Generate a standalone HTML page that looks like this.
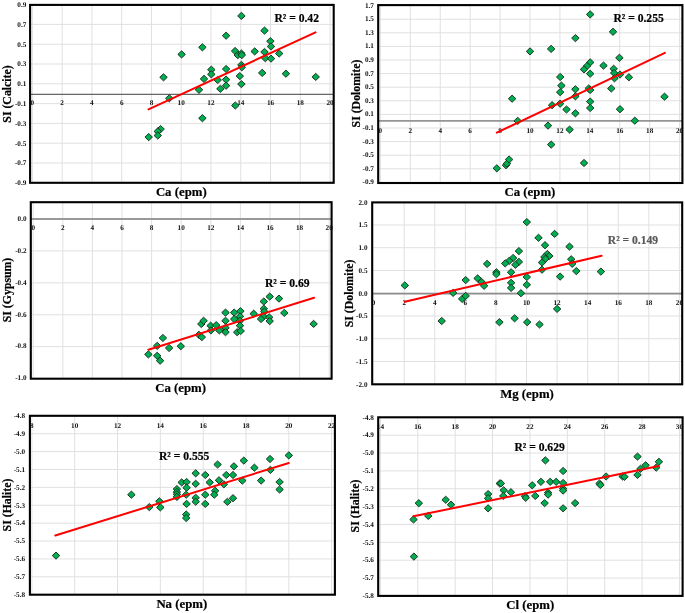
<!DOCTYPE html>
<html><head><meta charset="utf-8"><style>
html,body{margin:0;padding:0;background:#fff;width:685px;height:613px;overflow:hidden}
svg{display:block;will-change:transform}
text{font-family:"Liberation Serif",serif}
</style></head><body>
<svg width="685" height="613" viewBox="0 0 685 613">
<defs><path id="d" d="M0,-3.6 L3.75,0 L0,3.6 L-3.75,0 Z"/></defs>
<g stroke="#e0e0e0" stroke-width="1"><line x1="32.4" y1="4.9" x2="32.4" y2="182.8"/><line x1="62.16" y1="4.9" x2="62.16" y2="182.8"/><line x1="91.92" y1="4.9" x2="91.92" y2="182.8"/><line x1="121.68" y1="4.9" x2="121.68" y2="182.8"/><line x1="151.44" y1="4.9" x2="151.44" y2="182.8"/><line x1="181.2" y1="4.9" x2="181.2" y2="182.8"/><line x1="210.96" y1="4.9" x2="210.96" y2="182.8"/><line x1="240.72" y1="4.9" x2="240.72" y2="182.8"/><line x1="270.48" y1="4.9" x2="270.48" y2="182.8"/><line x1="300.24" y1="4.9" x2="300.24" y2="182.8"/><line x1="330" y1="4.9" x2="330" y2="182.8"/><line x1="30.1" y1="24.4" x2="333.7" y2="24.4"/><line x1="30.1" y1="44.2" x2="333.7" y2="44.2"/><line x1="30.1" y1="64" x2="333.7" y2="64"/><line x1="30.1" y1="83.8" x2="333.7" y2="83.8"/><line x1="30.1" y1="103.6" x2="333.7" y2="103.6"/><line x1="30.1" y1="123.4" x2="333.7" y2="123.4"/><line x1="30.1" y1="143.2" x2="333.7" y2="143.2"/><line x1="30.1" y1="163" x2="333.7" y2="163"/></g>
<line x1="30.1" y1="94.3" x2="333.7" y2="94.3" stroke="#666" stroke-width="1.3"/>
<g font-family="Liberation Serif" font-weight="bold" font-size="7.2" text-anchor="middle" fill="#111" style="text-rendering:geometricPrecision"><text x="32.4" y="104.9">0</text><text x="62.16" y="104.9">2</text><text x="91.92" y="104.9">4</text><text x="121.68" y="104.9">6</text><text x="151.44" y="104.9">8</text><text x="181.2" y="104.9">10</text><text x="210.96" y="104.9">12</text><text x="240.72" y="104.9">14</text><text x="270.48" y="104.9">16</text><text x="300.24" y="104.9">18</text><text x="330" y="104.9">20</text></g>
<g font-family="Liberation Serif" font-weight="bold" font-size="7.2" text-anchor="end" fill="#111" style="text-rendering:geometricPrecision"><text x="26.3" y="6.9">0.9</text><text x="26.3" y="26.7">0.7</text><text x="26.3" y="46.5">0.5</text><text x="26.3" y="66.3">0.3</text><text x="26.3" y="86.1">0.1</text><text x="26.3" y="105.9">-0.1</text><text x="26.3" y="125.7">-0.3</text><text x="26.3" y="145.5">-0.5</text><text x="26.3" y="165.3">-0.7</text><text x="26.3" y="185.1">-0.9</text></g>
<g fill="#00ad50" stroke="#173020" stroke-width="0.95"><use href="#d" x="202.4" y="47.3"/><use href="#d" x="181.6" y="54.4"/><use href="#d" x="163.5" y="77.3"/><use href="#d" x="211.3" y="69.7"/><use href="#d" x="211.3" y="74.3"/><use href="#d" x="204" y="78.9"/><use href="#d" x="217.7" y="80"/><use href="#d" x="199" y="89.8"/><use href="#d" x="169.3" y="98.3"/><use href="#d" x="202.4" y="118.2"/><use href="#d" x="160.6" y="129.1"/><use href="#d" x="157.8" y="131.4"/><use href="#d" x="157.8" y="135.5"/><use href="#d" x="148.7" y="137.1"/><use href="#d" x="241.4" y="15.9"/><use href="#d" x="226.1" y="35.7"/><use href="#d" x="264.5" y="30.6"/><use href="#d" x="270.4" y="41.2"/><use href="#d" x="271" y="46.5"/><use href="#d" x="254.7" y="51.4"/><use href="#d" x="235.1" y="51"/><use href="#d" x="237.8" y="55.1"/><use href="#d" x="241.4" y="53.5"/><use href="#d" x="241.8" y="55.1"/><use href="#d" x="264.5" y="52"/><use href="#d" x="265.3" y="58.2"/><use href="#d" x="271" y="58.6"/><use href="#d" x="279.2" y="53.5"/><use href="#d" x="241.4" y="64.9"/><use href="#d" x="241.8" y="67.3"/><use href="#d" x="226.1" y="69"/><use href="#d" x="226.1" y="79.6"/><use href="#d" x="239.8" y="76.1"/><use href="#d" x="262.2" y="72.9"/><use href="#d" x="226.1" y="85.7"/><use href="#d" x="220.4" y="88.8"/><use href="#d" x="241.4" y="84.1"/><use href="#d" x="235.3" y="105.5"/><use href="#d" x="285.9" y="73.7"/><use href="#d" x="315.7" y="76.9"/></g>
<line x1="148.5" y1="109.3" x2="315.5" y2="32.4" stroke="#ff0000" stroke-width="2" stroke-linecap="round"/>
<text x="274.4" y="21.5" font-family="Liberation Serif" font-weight="bold" font-size="11.6" fill="#000" stroke="#000" stroke-width="0.2">R² = 0.42</text>
<rect x="30.1" y="4.9" width="303.6" height="177.9" fill="none" stroke="#000" stroke-width="2.1"/>
<text x="181.3" y="195.6" font-family="Liberation Serif" font-weight="bold" font-size="12.8" text-anchor="middle" stroke="#000" stroke-width="0.2">Ca (epm)</text>
<text transform="translate(6.8,94) rotate(-90)" x="0" y="4" font-family="Liberation Serif" font-weight="bold" font-size="11.8" text-anchor="middle" stroke="#000" stroke-width="0.2">SI (Calcite)</text>
<g stroke="#e0e0e0" stroke-width="1"><line x1="380.4" y1="5.1" x2="380.4" y2="183"/><line x1="410.32" y1="5.1" x2="410.32" y2="183"/><line x1="440.24" y1="5.1" x2="440.24" y2="183"/><line x1="470.16" y1="5.1" x2="470.16" y2="183"/><line x1="500.08" y1="5.1" x2="500.08" y2="183"/><line x1="530" y1="5.1" x2="530" y2="183"/><line x1="559.92" y1="5.1" x2="559.92" y2="183"/><line x1="589.84" y1="5.1" x2="589.84" y2="183"/><line x1="619.76" y1="5.1" x2="619.76" y2="183"/><line x1="649.68" y1="5.1" x2="649.68" y2="183"/><line x1="679.6" y1="5.1" x2="679.6" y2="183"/><line x1="378.2" y1="19.2" x2="682.4" y2="19.2"/><line x1="378.2" y1="32.8" x2="682.4" y2="32.8"/><line x1="378.2" y1="46.4" x2="682.4" y2="46.4"/><line x1="378.2" y1="60" x2="682.4" y2="60"/><line x1="378.2" y1="73.6" x2="682.4" y2="73.6"/><line x1="378.2" y1="87.2" x2="682.4" y2="87.2"/><line x1="378.2" y1="100.8" x2="682.4" y2="100.8"/><line x1="378.2" y1="114.4" x2="682.4" y2="114.4"/><line x1="378.2" y1="128" x2="682.4" y2="128"/><line x1="378.2" y1="141.6" x2="682.4" y2="141.6"/><line x1="378.2" y1="155.2" x2="682.4" y2="155.2"/><line x1="378.2" y1="168.8" x2="682.4" y2="168.8"/></g>
<line x1="378.2" y1="120.9" x2="682.4" y2="120.9" stroke="#959595" stroke-width="1.8"/>
<g font-family="Liberation Serif" font-weight="bold" font-size="7.2" text-anchor="middle" fill="#111" style="text-rendering:geometricPrecision"><text x="380.4" y="132.8">0</text><text x="410.32" y="132.8">2</text><text x="440.24" y="132.8">4</text><text x="470.16" y="132.8">6</text><text x="500.08" y="132.8">8</text><text x="530" y="132.8">10</text><text x="559.92" y="132.8">12</text><text x="589.84" y="132.8">14</text><text x="619.76" y="132.8">16</text><text x="649.68" y="132.8">18</text><text x="679.6" y="132.8">20</text></g>
<g font-family="Liberation Serif" font-weight="bold" font-size="7.2" text-anchor="end" fill="#111" style="text-rendering:geometricPrecision"><text x="373.9" y="7.5">1.7</text><text x="373.9" y="21.1">1.5</text><text x="373.9" y="34.7">1.3</text><text x="373.9" y="48.3">1.1</text><text x="373.9" y="61.9">0.9</text><text x="373.9" y="75.5">0.7</text><text x="373.9" y="89.1">0.5</text><text x="373.9" y="102.7">0.3</text><text x="373.9" y="116.3">0.1</text><text x="373.9" y="129.9">-0.1</text><text x="373.9" y="143.5">-0.3</text><text x="373.9" y="157.1">-0.5</text><text x="373.9" y="170.7">-0.7</text><text x="373.9" y="184.3">-0.9</text></g>
<g fill="#00ad50" stroke="#173020" stroke-width="0.95"><use href="#d" x="530" y="51.4"/><use href="#d" x="551.1" y="48.9"/><use href="#d" x="560.2" y="77"/><use href="#d" x="561.4" y="85.6"/><use href="#d" x="560.2" y="92.2"/><use href="#d" x="512.1" y="98.7"/><use href="#d" x="590.2" y="14.4"/><use href="#d" x="613" y="31.8"/><use href="#d" x="575.4" y="38.1"/><use href="#d" x="619.4" y="57.8"/><use href="#d" x="590.2" y="62.4"/><use href="#d" x="587" y="66"/><use href="#d" x="584" y="69.4"/><use href="#d" x="603.5" y="65.6"/><use href="#d" x="590.2" y="73.7"/><use href="#d" x="613.7" y="68.8"/><use href="#d" x="614.1" y="73"/><use href="#d" x="620" y="74.5"/><use href="#d" x="614.5" y="78.3"/><use href="#d" x="628.9" y="77.3"/><use href="#d" x="575.4" y="89.3"/><use href="#d" x="588.7" y="88.5"/><use href="#d" x="590.2" y="90"/><use href="#d" x="575.4" y="96.3"/><use href="#d" x="611.3" y="88.5"/><use href="#d" x="664.5" y="96.7"/><use href="#d" x="590.2" y="101.6"/><use href="#d" x="560.1" y="103.7"/><use href="#d" x="552.1" y="105.2"/><use href="#d" x="590.2" y="108"/><use href="#d" x="566.5" y="109.5"/><use href="#d" x="620" y="109.2"/><use href="#d" x="575.4" y="113.3"/><use href="#d" x="634.8" y="120.7"/><use href="#d" x="548" y="125.6"/><use href="#d" x="569.6" y="129.6"/><use href="#d" x="551.2" y="144.6"/><use href="#d" x="584" y="163"/><use href="#d" x="517.7" y="120.9"/><use href="#d" x="496.8" y="168.3"/><use href="#d" x="506" y="165.2"/><use href="#d" x="507" y="163.5"/><use href="#d" x="509.1" y="159.5"/></g>
<line x1="496.8" y1="132.6" x2="664.9" y2="52.9" stroke="#ff0000" stroke-width="2" stroke-linecap="round"/>
<text x="613.4" y="21.7" font-family="Liberation Serif" font-weight="bold" font-size="11.6" fill="#000" stroke="#000" stroke-width="0.2">R² = 0.255</text>
<rect x="378.2" y="5.1" width="304.2" height="177.9" fill="none" stroke="#000" stroke-width="2.1"/>
<text x="529.9" y="196.4" font-family="Liberation Serif" font-weight="bold" font-size="12.8" text-anchor="middle" stroke="#000" stroke-width="0.2">Ca (epm)</text>
<text transform="translate(356,93.5) rotate(-90)" x="0" y="4" font-family="Liberation Serif" font-weight="bold" font-size="11.8" text-anchor="middle" stroke="#000" stroke-width="0.2">SI (Dolomite)</text>
<g stroke="#e0e0e0" stroke-width="1"><line x1="33.2" y1="202.2" x2="33.2" y2="378.7"/><line x1="62.8" y1="202.2" x2="62.8" y2="378.7"/><line x1="92.4" y1="202.2" x2="92.4" y2="378.7"/><line x1="122" y1="202.2" x2="122" y2="378.7"/><line x1="151.6" y1="202.2" x2="151.6" y2="378.7"/><line x1="181.2" y1="202.2" x2="181.2" y2="378.7"/><line x1="210.8" y1="202.2" x2="210.8" y2="378.7"/><line x1="240.4" y1="202.2" x2="240.4" y2="378.7"/><line x1="270" y1="202.2" x2="270" y2="378.7"/><line x1="299.6" y1="202.2" x2="299.6" y2="378.7"/><line x1="329.2" y1="202.2" x2="329.2" y2="378.7"/><line x1="30.8" y1="219" x2="331.6" y2="219"/><line x1="30.8" y1="250.92" x2="331.6" y2="250.92"/><line x1="30.8" y1="282.84" x2="331.6" y2="282.84"/><line x1="30.8" y1="314.76" x2="331.6" y2="314.76"/><line x1="30.8" y1="346.68" x2="331.6" y2="346.68"/></g>
<line x1="30.8" y1="219" x2="331.6" y2="219" stroke="#999" stroke-width="1.9"/>
<g font-family="Liberation Serif" font-weight="bold" font-size="7.2" text-anchor="middle" fill="#111" style="text-rendering:geometricPrecision"><text x="33.2" y="230.2">0</text><text x="62.8" y="230.2">2</text><text x="92.4" y="230.2">4</text><text x="122" y="230.2">6</text><text x="151.6" y="230.2">8</text><text x="181.2" y="230.2">10</text><text x="210.8" y="230.2">12</text><text x="240.4" y="230.2">14</text><text x="270" y="230.2">16</text><text x="299.6" y="230.2">18</text><text x="329.2" y="230.2">20</text></g>
<g font-family="Liberation Serif" font-weight="bold" font-size="7.2" text-anchor="end" fill="#111" style="text-rendering:geometricPrecision"><text x="26.6" y="220.8">0.0</text><text x="26.6" y="252.72">-0.2</text><text x="26.6" y="284.64">-0.4</text><text x="26.6" y="316.56">-0.6</text><text x="26.6" y="348.48">-0.8</text><text x="26.6" y="380.4">-1.0</text></g>
<g fill="#00ad50" stroke="#173020" stroke-width="0.95"><use href="#d" x="148.4" y="354.4"/><use href="#d" x="157.2" y="345.9"/><use href="#d" x="157.2" y="355.8"/><use href="#d" x="160.1" y="360.7"/><use href="#d" x="162.9" y="338"/><use href="#d" x="169.1" y="348"/><use href="#d" x="180.8" y="346.2"/><use href="#d" x="198.9" y="334.8"/><use href="#d" x="201.8" y="337.1"/><use href="#d" x="201.3" y="324"/><use href="#d" x="203.6" y="320.8"/><use href="#d" x="210.6" y="325.7"/><use href="#d" x="210.9" y="330.4"/><use href="#d" x="216.2" y="325.2"/><use href="#d" x="219.3" y="330.4"/><use href="#d" x="225.5" y="312.6"/><use href="#d" x="225.5" y="320.8"/><use href="#d" x="225.5" y="327.8"/><use href="#d" x="225.5" y="332.2"/><use href="#d" x="234.2" y="312.6"/><use href="#d" x="234.2" y="319.1"/><use href="#d" x="240.4" y="311.2"/><use href="#d" x="240" y="316.4"/><use href="#d" x="240" y="320.8"/><use href="#d" x="240" y="325.7"/><use href="#d" x="237.2" y="332.2"/><use href="#d" x="240.7" y="331"/><use href="#d" x="269.7" y="296.6"/><use href="#d" x="279" y="298.6"/><use href="#d" x="263.8" y="301.5"/><use href="#d" x="263.8" y="308.7"/><use href="#d" x="264.3" y="311.6"/><use href="#d" x="263.5" y="316.5"/><use href="#d" x="261" y="319"/><use href="#d" x="269.2" y="317.3"/><use href="#d" x="269.7" y="321.1"/><use href="#d" x="253.7" y="313.7"/><use href="#d" x="284.3" y="312.9"/><use href="#d" x="313.6" y="323.9"/></g>
<line x1="148.4" y1="349.7" x2="314.1" y2="297.7" stroke="#ff0000" stroke-width="2" stroke-linecap="round"/>
<text x="265" y="287.2" font-family="Liberation Serif" font-weight="bold" font-size="11.6" fill="#000" stroke="#000" stroke-width="0.2">R² = 0.69</text>
<rect x="30.8" y="202.2" width="300.8" height="176.5" fill="none" stroke="#000" stroke-width="2.1"/>
<text x="180.6" y="391.8" font-family="Liberation Serif" font-weight="bold" font-size="12.8" text-anchor="middle" stroke="#000" stroke-width="0.2">Ca (epm)</text>
<text transform="translate(6.8,290) rotate(-90)" x="0" y="4" font-family="Liberation Serif" font-weight="bold" font-size="11.8" text-anchor="middle" stroke="#000" stroke-width="0.2">SI (Gypsum)</text>
<g stroke="#e0e0e0" stroke-width="1"><line x1="404.18" y1="202.4" x2="404.18" y2="384.3"/><line x1="434.76" y1="202.4" x2="434.76" y2="384.3"/><line x1="465.34" y1="202.4" x2="465.34" y2="384.3"/><line x1="495.92" y1="202.4" x2="495.92" y2="384.3"/><line x1="526.5" y1="202.4" x2="526.5" y2="384.3"/><line x1="557.08" y1="202.4" x2="557.08" y2="384.3"/><line x1="587.66" y1="202.4" x2="587.66" y2="384.3"/><line x1="618.24" y1="202.4" x2="618.24" y2="384.3"/><line x1="648.82" y1="202.4" x2="648.82" y2="384.3"/><line x1="679.4" y1="202.4" x2="679.4" y2="384.3"/><line x1="372.2" y1="224.95" x2="682.2" y2="224.95"/><line x1="372.2" y1="247.7" x2="682.2" y2="247.7"/><line x1="372.2" y1="270.45" x2="682.2" y2="270.45"/><line x1="372.2" y1="293.2" x2="682.2" y2="293.2"/><line x1="372.2" y1="315.95" x2="682.2" y2="315.95"/><line x1="372.2" y1="338.7" x2="682.2" y2="338.7"/><line x1="372.2" y1="361.45" x2="682.2" y2="361.45"/></g>
<line x1="372.2" y1="293.7" x2="682.2" y2="293.7" stroke="#8c8c8c" stroke-width="1.8"/>
<g font-family="Liberation Serif" font-weight="bold" font-size="7.2" text-anchor="middle" fill="#111" style="text-rendering:geometricPrecision"><text x="373.6" y="304.7">0</text><text x="404.18" y="304.7">2</text><text x="434.76" y="304.7">4</text><text x="465.34" y="304.7">6</text><text x="495.92" y="304.7">8</text><text x="526.5" y="304.7">10</text><text x="557.08" y="304.7">12</text><text x="587.66" y="304.7">14</text><text x="618.24" y="304.7">16</text><text x="648.82" y="304.7">18</text><text x="679.4" y="304.7">20</text></g>
<g font-family="Liberation Serif" font-weight="bold" font-size="7.2" text-anchor="end" fill="#111" style="text-rendering:geometricPrecision"><text x="367.5" y="204.5">2.0</text><text x="367.5" y="227.25">1.5</text><text x="367.5" y="250">1.0</text><text x="367.5" y="272.75">0.5</text><text x="367.5" y="295.5">0.0</text><text x="367.5" y="318.25">-0.5</text><text x="367.5" y="341">-1.0</text><text x="367.5" y="363.75">-1.5</text><text x="367.5" y="386.5">-2.0</text></g>
<g fill="#00ad50" stroke="#173020" stroke-width="0.95"><use href="#d" x="404.8" y="285.4"/><use href="#d" x="453.1" y="292.9"/><use href="#d" x="462.2" y="298.9"/><use href="#d" x="465.7" y="295.9"/><use href="#d" x="465.7" y="280.1"/><use href="#d" x="441.7" y="321"/><use href="#d" x="477.6" y="278.4"/><use href="#d" x="481.5" y="281.9"/><use href="#d" x="484.1" y="285.8"/><use href="#d" x="487.1" y="263.9"/><use href="#d" x="526.8" y="222.1"/><use href="#d" x="554.6" y="233.9"/><use href="#d" x="538.5" y="237.8"/><use href="#d" x="545" y="245.2"/><use href="#d" x="569.5" y="246.6"/><use href="#d" x="518.9" y="251.1"/><use href="#d" x="513.1" y="258"/><use href="#d" x="509.2" y="260.9"/><use href="#d" x="505.2" y="263.4"/><use href="#d" x="518.9" y="261.9"/><use href="#d" x="515.4" y="264.8"/><use href="#d" x="547.3" y="254"/><use href="#d" x="549.3" y="256"/><use href="#d" x="544.4" y="257"/><use href="#d" x="545.4" y="258.9"/><use href="#d" x="542" y="262.5"/><use href="#d" x="542" y="269.7"/><use href="#d" x="571.2" y="259.3"/><use href="#d" x="572.2" y="263.8"/><use href="#d" x="576.3" y="271.1"/><use href="#d" x="560.1" y="276.6"/><use href="#d" x="496.4" y="272.3"/><use href="#d" x="496.4" y="274.2"/><use href="#d" x="511.1" y="272.3"/><use href="#d" x="526.8" y="277"/><use href="#d" x="526.8" y="284.8"/><use href="#d" x="511.1" y="282.8"/><use href="#d" x="511.1" y="287.9"/><use href="#d" x="520.9" y="293.2"/><use href="#d" x="557.1" y="308.9"/><use href="#d" x="499.4" y="322.2"/><use href="#d" x="514.6" y="318.3"/><use href="#d" x="527.2" y="322.2"/><use href="#d" x="539.5" y="324.5"/><use href="#d" x="600.9" y="271.6"/></g>
<line x1="404.8" y1="301.7" x2="601.6" y2="255.8" stroke="#ff0000" stroke-width="2" stroke-linecap="round"/>
<text x="607.8" y="243.8" font-family="Liberation Serif" font-weight="bold" font-size="11.6" fill="#595959" stroke="#595959" stroke-width="0.2">R² = 0.149</text>
<rect x="372.2" y="202.4" width="310" height="181.9" fill="none" stroke="#000" stroke-width="2.1"/>
<text x="527" y="397.8" font-family="Liberation Serif" font-weight="bold" font-size="12.8" text-anchor="middle" stroke="#000" stroke-width="0.2">Mg (epm)</text>
<text transform="translate(349,293.4) rotate(-90)" x="0" y="4" font-family="Liberation Serif" font-weight="bold" font-size="11.8" text-anchor="middle" stroke="#000" stroke-width="0.2">SI (Dolomite)</text>
<g stroke="#e0e0e0" stroke-width="1"><line x1="31.88" y1="415.8" x2="31.88" y2="594.7"/><line x1="74.7" y1="415.8" x2="74.7" y2="594.7"/><line x1="117.52" y1="415.8" x2="117.52" y2="594.7"/><line x1="160.34" y1="415.8" x2="160.34" y2="594.7"/><line x1="203.16" y1="415.8" x2="203.16" y2="594.7"/><line x1="245.98" y1="415.8" x2="245.98" y2="594.7"/><line x1="288.8" y1="415.8" x2="288.8" y2="594.7"/><line x1="331.62" y1="415.8" x2="331.62" y2="594.7"/><line x1="29.9" y1="433.69" x2="334.9" y2="433.69"/><line x1="29.9" y1="451.58" x2="334.9" y2="451.58"/><line x1="29.9" y1="469.47" x2="334.9" y2="469.47"/><line x1="29.9" y1="487.36" x2="334.9" y2="487.36"/><line x1="29.9" y1="505.25" x2="334.9" y2="505.25"/><line x1="29.9" y1="523.14" x2="334.9" y2="523.14"/><line x1="29.9" y1="541.03" x2="334.9" y2="541.03"/><line x1="29.9" y1="558.92" x2="334.9" y2="558.92"/><line x1="29.9" y1="576.81" x2="334.9" y2="576.81"/></g>
<g font-family="Liberation Serif" font-weight="bold" font-size="7.2" text-anchor="middle" fill="#111" style="text-rendering:geometricPrecision"><text x="31.88" y="427.8">8</text><text x="74.7" y="427.8">10</text><text x="117.52" y="427.8">12</text><text x="160.34" y="427.8">14</text><text x="203.16" y="427.8">16</text><text x="245.98" y="427.8">18</text><text x="288.8" y="427.8">20</text><text x="331.62" y="427.8">22</text></g>
<g font-family="Liberation Serif" font-weight="bold" font-size="7.2" text-anchor="end" fill="#111" style="text-rendering:geometricPrecision"><text x="25.1" y="418.1">-4.8</text><text x="25.1" y="435.99">-4.9</text><text x="25.1" y="453.88">-5.0</text><text x="25.1" y="471.77">-5.1</text><text x="25.1" y="489.66">-5.2</text><text x="25.1" y="507.55">-5.3</text><text x="25.1" y="525.44">-5.4</text><text x="25.1" y="543.33">-5.5</text><text x="25.1" y="561.22">-5.6</text><text x="25.1" y="579.11">-5.7</text><text x="25.1" y="597">-5.8</text></g>
<g fill="#00ad50" stroke="#173020" stroke-width="0.95"><use href="#d" x="56" y="555.6"/><use href="#d" x="131.4" y="494.7"/><use href="#d" x="149.3" y="507.1"/><use href="#d" x="159.4" y="501.3"/><use href="#d" x="160.3" y="507.4"/><use href="#d" x="176.9" y="489.1"/><use href="#d" x="176.9" y="492"/><use href="#d" x="176.9" y="494.3"/><use href="#d" x="176.9" y="496.9"/><use href="#d" x="181.7" y="482.4"/><use href="#d" x="186.6" y="482"/><use href="#d" x="186.6" y="487.7"/><use href="#d" x="186.2" y="494.7"/><use href="#d" x="186.6" y="503.9"/><use href="#d" x="186.2" y="514.5"/><use href="#d" x="186.2" y="518"/><use href="#d" x="195.7" y="473.3"/><use href="#d" x="195.7" y="483.8"/><use href="#d" x="195.7" y="497.8"/><use href="#d" x="195.7" y="501.7"/><use href="#d" x="205.3" y="475"/><use href="#d" x="209.7" y="482.4"/><use href="#d" x="205.3" y="494.7"/><use href="#d" x="205.3" y="503.9"/><use href="#d" x="217.6" y="464.5"/><use href="#d" x="219" y="480.3"/><use href="#d" x="215.1" y="490.8"/><use href="#d" x="214.3" y="494.7"/><use href="#d" x="226.3" y="475"/><use href="#d" x="223.9" y="484.3"/><use href="#d" x="233" y="475"/><use href="#d" x="233.9" y="466.3"/><use href="#d" x="233" y="498.2"/><use href="#d" x="227.4" y="501.8"/><use href="#d" x="243.8" y="460.6"/><use href="#d" x="242.3" y="480.6"/><use href="#d" x="254.4" y="467.7"/><use href="#d" x="261.1" y="480.6"/><use href="#d" x="270" y="459"/><use href="#d" x="270.4" y="469.9"/><use href="#d" x="279.6" y="482"/><use href="#d" x="279.6" y="489.5"/><use href="#d" x="288.8" y="455.4"/></g>
<line x1="55.3" y1="535.5" x2="288.8" y2="463" stroke="#ff0000" stroke-width="2" stroke-linecap="round"/>
<text x="159" y="460.1" font-family="Liberation Serif" font-weight="bold" font-size="11.6" fill="#000" stroke="#000" stroke-width="0.2">R² = 0.555</text>
<rect x="29.9" y="415.8" width="305" height="178.9" fill="none" stroke="#000" stroke-width="2.1"/>
<text x="181.8" y="608.1" font-family="Liberation Serif" font-weight="bold" font-size="12.8" text-anchor="middle" stroke="#000" stroke-width="0.2">Na (epm)</text>
<text transform="translate(6.8,505) rotate(-90)" x="0" y="4" font-family="Liberation Serif" font-weight="bold" font-size="11.8" text-anchor="middle" stroke="#000" stroke-width="0.2">SI (Halite)</text>
<g stroke="#e0e0e0" stroke-width="1"><line x1="380.42" y1="417.3" x2="380.42" y2="595.9"/><line x1="417.8" y1="417.3" x2="417.8" y2="595.9"/><line x1="455.18" y1="417.3" x2="455.18" y2="595.9"/><line x1="492.56" y1="417.3" x2="492.56" y2="595.9"/><line x1="529.94" y1="417.3" x2="529.94" y2="595.9"/><line x1="567.32" y1="417.3" x2="567.32" y2="595.9"/><line x1="604.7" y1="417.3" x2="604.7" y2="595.9"/><line x1="642.08" y1="417.3" x2="642.08" y2="595.9"/><line x1="679.46" y1="417.3" x2="679.46" y2="595.9"/><line x1="378.2" y1="435.16" x2="682.6" y2="435.16"/><line x1="378.2" y1="453.02" x2="682.6" y2="453.02"/><line x1="378.2" y1="470.88" x2="682.6" y2="470.88"/><line x1="378.2" y1="488.74" x2="682.6" y2="488.74"/><line x1="378.2" y1="506.6" x2="682.6" y2="506.6"/><line x1="378.2" y1="524.46" x2="682.6" y2="524.46"/><line x1="378.2" y1="542.32" x2="682.6" y2="542.32"/><line x1="378.2" y1="560.18" x2="682.6" y2="560.18"/><line x1="378.2" y1="578.04" x2="682.6" y2="578.04"/></g>
<g font-family="Liberation Serif" font-weight="bold" font-size="7.2" text-anchor="middle" fill="#111" style="text-rendering:geometricPrecision"><text x="380.42" y="429.3">14</text><text x="417.8" y="429.3">16</text><text x="455.18" y="429.3">18</text><text x="492.56" y="429.3">20</text><text x="529.94" y="429.3">22</text><text x="567.32" y="429.3">24</text><text x="604.7" y="429.3">26</text><text x="642.08" y="429.3">28</text><text x="679.46" y="429.3">30</text></g>
<g font-family="Liberation Serif" font-weight="bold" font-size="7.2" text-anchor="end" fill="#111" style="text-rendering:geometricPrecision"><text x="373.9" y="419.6">-4.8</text><text x="373.9" y="437.46">-4.9</text><text x="373.9" y="455.32">-5.0</text><text x="373.9" y="473.18">-5.1</text><text x="373.9" y="491.04">-5.2</text><text x="373.9" y="508.9">-5.3</text><text x="373.9" y="526.76">-5.4</text><text x="373.9" y="544.62">-5.5</text><text x="373.9" y="562.48">-5.6</text><text x="373.9" y="580.34">-5.7</text><text x="373.9" y="598.2">-5.8</text></g>
<g fill="#00ad50" stroke="#173020" stroke-width="0.95"><use href="#d" x="413.9" y="556.6"/><use href="#d" x="413.5" y="519.5"/><use href="#d" x="418.8" y="503.2"/><use href="#d" x="428.3" y="515.9"/><use href="#d" x="445.7" y="499.8"/><use href="#d" x="451" y="504.7"/><use href="#d" x="488.1" y="494.1"/><use href="#d" x="488.1" y="498.3"/><use href="#d" x="488.1" y="508.3"/><use href="#d" x="499.8" y="483.5"/><use href="#d" x="545.4" y="460.4"/><use href="#d" x="563.1" y="471"/><use href="#d" x="500.9" y="483.4"/><use href="#d" x="503.7" y="490.3"/><use href="#d" x="503.3" y="495.9"/><use href="#d" x="510.9" y="492.2"/><use href="#d" x="525" y="496.2"/><use href="#d" x="525.7" y="497.8"/><use href="#d" x="532.2" y="485.3"/><use href="#d" x="535.3" y="495.9"/><use href="#d" x="540.9" y="481.8"/><use href="#d" x="550.2" y="481.8"/><use href="#d" x="556.2" y="481.8"/><use href="#d" x="563.1" y="483"/><use href="#d" x="563.1" y="488.7"/><use href="#d" x="563.1" y="490.6"/><use href="#d" x="548.1" y="492.7"/><use href="#d" x="548.1" y="494.6"/><use href="#d" x="544.6" y="503.1"/><use href="#d" x="563.1" y="508.3"/><use href="#d" x="575.1" y="503.1"/><use href="#d" x="599.5" y="483.5"/><use href="#d" x="600.4" y="485"/><use href="#d" x="606.1" y="476.5"/><use href="#d" x="622.6" y="476.5"/><use href="#d" x="624.5" y="476.8"/><use href="#d" x="637.5" y="456.6"/><use href="#d" x="637.5" y="474.9"/><use href="#d" x="640.5" y="468.8"/><use href="#d" x="645.6" y="465.3"/><use href="#d" x="656.2" y="467.6"/><use href="#d" x="658.9" y="461.8"/></g>
<line x1="413.5" y1="516.3" x2="658.9" y2="466.1" stroke="#ff0000" stroke-width="2" stroke-linecap="round"/>
<text x="514.4" y="450.9" font-family="Liberation Serif" font-weight="bold" font-size="11.6" fill="#000" stroke="#000" stroke-width="0.2">R² = 0.629</text>
<rect x="378.2" y="417.3" width="304.4" height="178.6" fill="none" stroke="#000" stroke-width="2.1"/>
<text x="530.3" y="609.1" font-family="Liberation Serif" font-weight="bold" font-size="12.8" text-anchor="middle" stroke="#000" stroke-width="0.2">Cl (epm)</text>
<text transform="translate(355,506) rotate(-90)" x="0" y="4" font-family="Liberation Serif" font-weight="bold" font-size="11.8" text-anchor="middle" stroke="#000" stroke-width="0.2">SI (Halite)</text>
</svg>
</body></html>
